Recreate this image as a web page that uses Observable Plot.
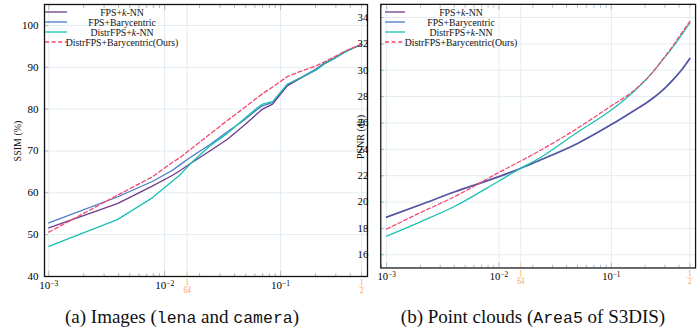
<!DOCTYPE html>
<html><head><meta charset="utf-8">
<script src="https://cdn.jsdelivr.net/npm/d3@7"></script>
<script src="https://cdn.jsdelivr.net/npm/@observablehq/plot@0.6"></script>
<style>
html,body{margin:0;padding:0;background:#fff;}
body{width:698px;height:333px;overflow:hidden;position:relative;font-family:"Liberation Serif","Times New Roman","DejaVu Serif",serif;}
#a{position:absolute;left:0;top:0;}
#b{position:absolute;left:360px;top:0;}
.leg{position:absolute;top:0;left:0;overflow:visible;}
.cap{position:absolute;top:306px;font-family:"Liberation Serif","DejaVu Serif",serif;font-size:19px;color:#111;transform:translateX(-50%);white-space:nowrap;}
.mono{font-family:"Liberation Mono","DejaVu Sans Mono",monospace;font-size:16.5px;font-weight:300;}
.ylab{position:absolute;font-size:10px;color:#111;white-space:nowrap;transform:translate(-50%,-50%) rotate(-90deg);}
</style>
</head><body>
<div id="a"></div>
<div id="b"></div>
<div class="ylab" style="left:17px;top:141px">SSIM (%)</div>
<div class="ylab" style="left:360px;top:137px">PSNR (db)</div>
<div class="cap" style="left:182px">(a) Images (<span class="mono">lena</span> and <span class="mono">camera</span>)</div>
<div class="cap" style="left:533px">(b) Point clouds (<span class="mono">Area5</span> of S3DIS)</div>
<script>
// ---- data ----
const names = ["FPS+k-NN", "FPS+Barycentric", "DistrFPS+k-NN", "DistrFPS+Barycentric(Ours)"];
const colors = ["#6e3b8c", "#4a7cc4", "#19c1b3", "#f3476f"];

// (a) SSIM (%) vs sampling rate
const ssimRate      = [0.001, 1/256, 1/128, 0.0117, 0.0137, 0.0167, 0.0245, 0.0348, 0.048, 0.0634, 0.070, 0.0853, 0.1148, 0.1486, 0.200, 0.244, 0.286, 0.363, 0.5];
const ssimFpsKnn    = [51.6, 57.4, 61.6, 64.2, 65.4, 67.0, 70.0, 72.8, 76.0, 79.0, 80.0, 81.2, 85.6, 87.4, 89.3, 91.0, 92.0, 93.7, 95.5];
const ssimFpsBary   = [52.8, 59.0, 62.7, 65.4, 66.8, 68.5, 71.5, 74.6, 77.3, 80.0, 80.8, 81.6, 85.8, 87.5, 89.5, 91.2, 92.1, 93.8, 95.5];
const ssimDistrKnn  = [47.2, 53.6, 58.8, 62.8, 64.4, 67.0, 71.2, 74.2, 77.6, 80.4, 81.2, 81.8, 86.0, 87.5, 89.3, 91.0, 92.0, 93.7, 95.5];
const ssimDistrBary = [50.6, 59.4, 63.8, 67.3, 68.5, 70.4, 74.0, 77.3, 80.2, 82.8, 83.7, 85.3, 87.8, 89.0, 90.3, 91.4, 92.4, 93.9, 95.5];

// (b) PSNR (db) vs sampling rate
const psnrRate      = [0.001, 0.002, 0.004, 0.01, 0.0155, 0.022, 0.05, 0.1, 0.15, 0.22, 0.3, 0.36, 0.42, 0.5];
const psnrFpsKnn    = [18.86, 19.8, 20.76, 21.93, 22.55, 23.1, 24.45, 25.88, 26.8, 27.7, 28.65, 29.35, 30.0, 30.9];
const psnrFpsBary   = [18.86, 19.8, 20.76, 21.93, 22.55, 23.1, 24.45, 25.88, 26.8, 27.7, 28.65, 29.35, 30.0, 30.9];
const psnrDistrKnn  = [17.41, 18.5, 19.66, 21.6, 22.55, 23.25, 25.3, 26.98, 28.2, 29.6, 31.0, 31.85, 32.65, 33.6];
const psnrDistrBary = [17.95, 19.2, 20.4, 22.25, 23.1, 23.8, 25.6, 27.3, 28.3, 29.6, 31.05, 31.95, 32.8, 33.7];

// ticks
const majorTicks = [1e-3, 1e-2, 1e-1];
const majorExp = ["\u22123", "\u22122", "\u22121"];
const fracTicks = [1/64, 1/2];
const fracNum = ["1", "1"];
const fracDen = ["64", "2"];
const ssimTicks = [40, 50, 60, 70, 80, 90, 100];
const psnrTicks = [16, 18, 20, 22, 24, 26, 28, 30, 32, 34];

const gridColor = "#e3ebf1";
const tickColor = "#a9bed2";
const orange = "#f6a24a";

function makeChart(cfg) {
  const rows = [];
  cfg.order.forEach(k => cfg.series[k].forEach((v, i) => rows.push({rate: cfg.rate[i], v, k})));
  const minor = [];
  for (const d of [1e-4, 1e-3, 1e-2, 1e-1]) for (let m = 2; m <= 9; m++) {
    const t = d * m; if (t >= cfg.xDomain[0] && t <= cfg.xDomain[1]) minor.push(t);
  }
  const lineMarks = cfg.order.map(k => Plot.line(rows.filter(r => r.k === k), {
    x: "rate", y: "v", stroke: colors[k], strokeWidth: cfg.widths[k],
    strokeOpacity: cfg.opacity[k],
    strokeDasharray: k === 3 ? "4,2.6" : null, curve: cfg.curve
  }));
  const svg = Plot.plot({
    width: cfg.width, height: 300,
    marginLeft: cfg.marginLeft, marginRight: cfg.marginRight, marginTop: 4, marginBottom: cfg.marginBottom,
    style: {fontFamily: "'Liberation Serif', serif", fontSize: "11px", background: "transparent", overflow: "visible"},
    x: {type: "log", domain: cfg.xDomain},
    y: {domain: cfg.yDomain},
    marks: [
      Plot.gridY(cfg.yTicks, {stroke: gridColor, strokeOpacity: 1}),
      Plot.gridX([...majorTicks, ...fracTicks], {stroke: gridColor, strokeOpacity: 1}),
      Plot.axisX(minor, {anchor: "bottom", tickSize: 3, dy: -3, text: null, stroke: tickColor, label: null}),
      Plot.axisX(majorTicks, {anchor: "bottom", tickSize: 5, dy: -5, text: null, stroke: tickColor, label: null}),
      Plot.axisX(minor, {anchor: "top", tickSize: 3, dy: 3, text: null, stroke: tickColor, label: null}),
      Plot.axisX(majorTicks, {anchor: "top", tickSize: 5, dy: 5, text: null, stroke: tickColor, label: null}),
      Plot.axisX(fracTicks, {anchor: "bottom", tickSize: 5, dy: -5, text: null, stroke: "#f3c9a0", label: null}),
      Plot.axisY(cfg.yTicks, {anchor: "left", tickSize: 4, dx: 4, text: null, stroke: tickColor, label: null}),
      Plot.axisX(majorTicks, {anchor: "bottom", tickSize: 0, tickPadding: 5, tickFormat: () => "10", fontSize: 11, label: null}),
      Plot.axisY(cfg.yTicks, {anchor: "left", tickSize: 0, tickPadding: cfg.tickPadding, fontSize: 11, label: null}),
      Plot.text(fracTicks, {x: d => d, frameAnchor: "bottom", dy: 8, text: (d, i) => fracNum[i], fill: orange, fontSize: 7.5}),
      Plot.text(fracTicks, {x: d => d, frameAnchor: "bottom", dy: 11.5, text: () => "\u2014", fill: orange, fontSize: 7}),
      Plot.text(fracTicks, {x: d => d, frameAnchor: "bottom", dy: 16.5, text: (d, i) => fracDen[i], fill: orange, fontSize: 7.5}),
      ...lineMarks,
      Plot.frame({stroke: "#111", strokeWidth: 1.3})
    ]
  });
  // superscripts for 10^-n on the labelled decade ticks only
  let n = 0;
  d3.select(svg).selectAll("text").filter(function() { return this.textContent === "10"; }).each(function() {
    d3.select(this).append("tspan").attr("dy", "-0.45em").attr("font-size", "7.5px").text(majorExp[n++]);
  });
  return svg;
}

function legend(container, x0, x1, xc, y0) {
  const g = d3.select(container).append("svg").attr("class", "leg").attr("width", 698).attr("height", 60);
  [0, 1, 2, 3].forEach(k => {
    const y = y0 + k * 10;
    g.append("line").attr("x1", x0).attr("x2", x1).attr("y1", y).attr("y2", y)
      .attr("stroke", colors[k]).attr("stroke-width", 1.3).attr("stroke-dasharray", k === 3 ? "4,2.6" : null);
    const t = g.append("text").attr("x", xc).attr("y", y + 3.5).attr("text-anchor", "middle")
      .attr("font-family", "'Liberation Serif', serif").attr("font-size", "9.8px").attr("fill", "#111");
    if (k === 0 || k === 2) {
      const pre = k === 0 ? "FPS+" : "DistrFPS+";
      t.append("tspan").text(pre);
      t.append("tspan").attr("font-style", "italic").text("k");
      t.append("tspan").text("-NN");
    } else t.text(names[k]);
  });
}

const a = makeChart({
  rate: ssimRate, series: [ssimFpsKnn, ssimFpsBary, ssimDistrKnn, ssimDistrBary],
  order: [1, 0, 2, 3], widths: [1.3, 1.3, 1.3, 1.3], opacity: [1, 1, 1, 1],
  xDomain: [Math.pow(10, -3.037), Math.pow(10, -0.25)], yDomain: [40, 105], yTicks: ssimTicks,
  width: 372, marginLeft: 44, marginRight: 5, marginBottom: 24,
  tickPadding: 6, curve: "linear"
});
document.getElementById("a").appendChild(a);

const b = makeChart({
  rate: psnrRate, series: [psnrFpsKnn, psnrFpsBary, psnrDistrKnn, psnrDistrBary],
  order: [1, 0, 2, 3], widths: [1.2, 1.8, 1.3, 1.3], opacity: [0.75, 1, 1, 1],
  xDomain: [Math.pow(10, -3.052), Math.pow(10, -0.25)], yDomain: [15, 35], yTicks: psnrTicks,
  width: 350, marginLeft: 21, marginRight: 3, marginBottom: 23,
  tickPadding: 13, curve: "monotone-x"
});
document.getElementById("b").appendChild(b);

legend(document.body, 45, 67, 122, 12);
legend(document.body, 385, 405, 461, 12);
</script>
</body></html>
